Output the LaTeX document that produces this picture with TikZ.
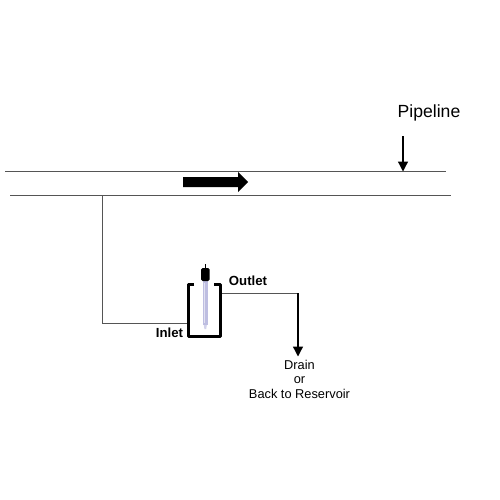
\documentclass[tikz,border=0pt]{standalone}
\usepackage{fontspec}
\setmainfont{Liberation Sans}
\usetikzlibrary{arrows.meta}
\definecolor{pipe}{RGB}{85,85,85}
\definecolor{probe}{RGB}{190,190,225}
\tikzset{
  pipeline/.style={draw=pipe,line width=1pt},
  flowline/.style={draw=pipe,line width=1pt},
  tip/.style={draw=black,line width=1.3pt,-{Triangle[length=10pt,width=10pt]}},
  lbl/.style={inner sep=0pt,font=\fontsize{12.8}{14.5}\selectfont,align=center},
  boldlbl/.style={inner sep=0pt,font=\fontsize{13.2}{15}\selectfont\bfseries}
}
\begin{document}
\begin{tikzpicture}[x=1pt,y=-1pt]
\useasboundingbox (0,0) rectangle (500,500);
\fill[white] (0,0) rectangle (500,500);
% pipe walls
\coordinate (topL) at (5,171);
\coordinate (topR) at (446,171);
\coordinate (botL) at (10,195);
\coordinate (botR) at (451,195);
\draw[pipeline] (topL) -- (topR);
\draw[pipeline] (botL) -- (botR);
% flow arrow
\fill[black] (183,177) -- (238,177) -- (238,172) -- (248,182) -- (238,192) -- (238,187) -- (183,187) -- cycle;
% pipeline label
\node[inner sep=0pt,font=\fontsize{17.6}{20}\selectfont] (pipelabel) at (429,113) {Pipeline};
\coordinate (pipeA) at (403,136);
\coordinate (pipeB) at (403,171.5);
\draw[tip] (pipeA) -- (pipeB);
% inlet
\coordinate (tap) at (102,195);
\coordinate (corner) at (102,323);
\coordinate (inletEnd) at (188,323);
\draw[flowline] (tap) -- (corner) -- (inletEnd);
% outlet
\coordinate (outletStart) at (220,293);
\coordinate (outletCorner) at (298,293);
\coordinate (drainEnd) at (298,356.5);
\draw[flowline] (outletStart) -- (outletCorner);
\draw[tip] (outletCorner) -- (drainEnd);
% probe
\fill[probe] (202.8,281) rectangle (207.8,325);
\fill[probe!70!white] (203.8,325) -- (206.8,325) -- (206.2,329) -- (204.4,329) -- cycle;
\draw[white!55!probe,line width=1pt] (204.5,283) -- (204.5,323);
\draw[black,line width=0.8pt] (205.5,264) -- (205.5,270);
\fill[black,rounded corners=1.5pt] (201,268) rectangle (209.5,281);
% vessel
\draw[black,line width=3pt,line join=round] (194,284.5) -- (188.5,284.5) -- (188.5,336.5) -- (220.5,336.5) -- (220.5,284.5) -- (213.5,284.5);
% labels
\node[boldlbl] (outlet) at (248,281) {Outlet};
\node[boldlbl] (inlet) at (169.5,332.5) {Inlet};
\node[lbl] (drain) at (299.5,379) {Drain\\or\\Back to Reservoir};
\end{tikzpicture}
\end{document}
